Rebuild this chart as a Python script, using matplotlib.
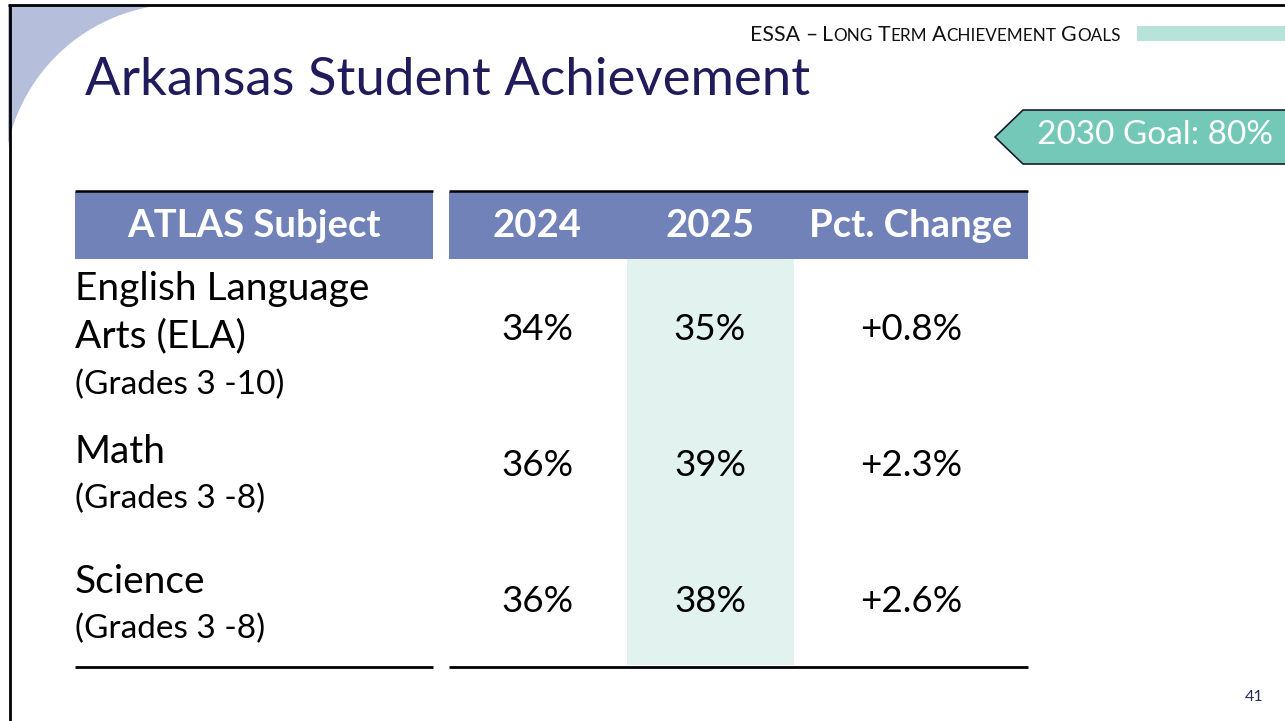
import numpy as np
import matplotlib
matplotlib.use('Agg')
import matplotlib.pyplot as plt
from matplotlib.patches import Polygon, Rectangle

# table content
subjects = ['English Language\nArts (ELA)', 'Math', 'Science']
grades = ['(Grades 3 -10)', '(Grades 3 -8)', '(Grades 3 -8)']
col_labels = ['ATLAS Subject', '2024', '2025', 'Pct. Change']
vals_2024 = [34, 36, 36]
vals_2025 = [35, 39, 38]
pct_change = [0.8, 2.3, 2.6]
goal_year = 2030
goal_pct = 80

W, H = 1285, 721
FONT = 'Lato'
NAVY = '#201c5c'
HEAD = '#7182b8'

fig = plt.figure(figsize=(W / 100, H / 100), dpi=100)
ax = fig.add_axes([0, 0, 1, 1])
ax.set_xlim(0, W)
ax.set_ylim(H, 0)
ax.axis('off')

# corner decoration
t = np.linspace(np.pi, 1.5 * np.pi, 80)
cx, cy, r = 182, 182, 178
arc_x = np.clip(cx + r * np.cos(t), 8, None)
arc_y = np.clip(cy + r * np.sin(t), 5, None)
pts = np.column_stack([np.r_[8, arc_x], np.r_[5, arc_y]])
ax.add_patch(Polygon(pts, closed=True, fc='#b5bfdc', ec='none'))

# frame
ax.plot([8, W], [5, 5], color='black', lw=2, solid_capstyle='butt')
ax.plot([9.5, 9.5], [5, H], color='black', lw=2, solid_capstyle='butt')

# title
ax.text(85, 95, 'Arkansas Student Achievement', fontsize=38, color=NAVY,
        family=FONT, va='baseline', ha='left')

# small caps header
fig.canvas.draw()
rend = fig.canvas.get_renderer()
words = [[('ESSA', 1)], [('–', 1)], [('L', 1), ('ONG', 0)], [('T', 1), ('ERM', 0)],
         [('A', 1), ('CHIEVEMENT', 0)], [('G', 1), ('OALS', 0)]]
x = 750
for word in words:
    for s, big in word:
        tx = ax.text(x, 41, s, fontsize=15.3 if big else 12.3, family=FONT,
                     color='#111111', va='baseline', ha='left')
        x += tx.get_window_extent(rend).width
    x += 5
ax.add_patch(Rectangle((1137, 26), W - 1137, 15, fc='#b8e3da', ec='none'))

# goal badge
badge = [(995, 137), (1023, 110), (W + 5, 110), (W + 5, 164), (1023, 164)]
ax.add_patch(Polygon(badge, closed=True, fc='#74c8b8', ec='#1c1c2c', lw=1.2))
ax.text(1037, 135, f'{goal_year} Goal: {goal_pct}%', fontsize=24, color='white',
        family=FONT, va='center', ha='left')

# table header
col_x = [254, 537, 710, 911]
ax.add_patch(Rectangle((75, 192), 358, 67, fc=HEAD, ec='none'))
ax.add_patch(Rectangle((449, 192), 579, 67, fc=HEAD, ec='none'))
ax.plot([75, 433], [191, 191], color='black', lw=1.8, solid_capstyle='butt')
ax.plot([449, 1028], [191, 191], color='black', lw=1.8, solid_capstyle='butt')
for cxx, lab in zip(col_x, col_labels):
    ax.text(cxx, 226, lab, fontsize=27.5, color='white', fontweight='bold',
            family=FONT, va='center', ha='center')

# highlighted 2025 column
ax.add_patch(Rectangle((627, 259), 167, 406, fc='#e2f2ee', ec='none'))

# rows
row_y = [329, 466, 601]
name_top = [289, 452, 582]
for i in range(3):
    lines = subjects[i].split('\n')
    for j, ln in enumerate(lines):
        ax.text(75, name_top[i] + j * 47, ln, fontsize=28, family=FONT,
                color='black', va='center', ha='left')
    ax.text(75, name_top[i] + len(lines) * 47 + (2 if i == 0 else 0), grades[i],
            fontsize=24, family=FONT, color='black', va='center', ha='left')
    ax.text(col_x[1], row_y[i], f'{vals_2024[i]}%', fontsize=26.5, family=FONT,
            va='center', ha='center')
    ax.text(col_x[2], row_y[i], f'{vals_2025[i]}%', fontsize=26.5, family=FONT,
            va='center', ha='center')
    ax.text(col_x[3], row_y[i], f'+{pct_change[i]:.1f}%', fontsize=26.5, family=FONT,
            va='center', ha='center')

ax.plot([75, 433], [666.5, 666.5], color='black', lw=2, solid_capstyle='butt')
ax.plot([449, 1028], [666.5, 666.5], color='black', lw=2, solid_capstyle='butt')

# page number
ax.text(1254, 697, '41', fontsize=11.5, family=FONT, color='#2b2a5b',
        va='center', ha='center')

fig.savefig('out.png', dpi=100)
